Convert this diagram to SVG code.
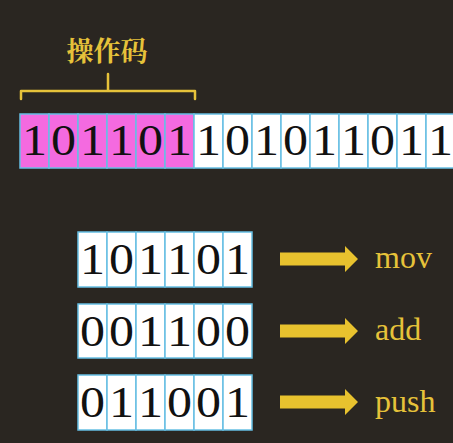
<svg xmlns="http://www.w3.org/2000/svg" width="453" height="443" viewBox="0 0 453 443">
<defs>
<style>
.bg{fill:#2a2621}
.cell{fill:#ffffff;stroke:#66bfe3;stroke-width:1.5}
.op{fill:#f46ae0}
.bit{font-family:"Liberation Serif","Times New Roman",serif;font-size:44px;fill:#111;text-anchor:middle}
.lbl{font-family:"Liberation Serif","Times New Roman",serif;font-size:32px;fill:#e6c23a}
.cn{font-family:"Noto Serif CJK SC","Noto Sans CJK SC",serif;font-size:27px;font-weight:bold;fill:#e6c23a;text-anchor:middle}
.brace{fill:none;stroke:#e6c23a;stroke-width:2.5;stroke-linejoin:round;stroke-linecap:round}
.arrow{fill:#e8c22e}
</style>
<path id="arr" d="M0,-6.5 H65 V-13 L78,0 L65,13 V6.5 H0 Z"/>
</defs>
<rect class="bg" x="0" y="0" width="453" height="443"/>

<g id="opcode-label">
<text class="cn" x="107" y="61">操作码</text>
<path class="brace" d="M21,99 V91 H195 V99 M108,91 V74"/>
</g>

<g id="instruction">
<g id="opcode-bits">
<rect class="cell op" x="20" y="114" width="29" height="54"/>
<rect class="cell op" x="49" y="114" width="29" height="54"/>
<rect class="cell op" x="78" y="114" width="29" height="54"/>
<rect class="cell op" x="107" y="114" width="29" height="54"/>
<rect class="cell op" x="136" y="114" width="29" height="54"/>
<rect class="cell op" x="165" y="114" width="29" height="54"/>
<text class="bit" x="34.5" y="155" textLength="25" lengthAdjust="spacingAndGlyphs">1</text>
<text class="bit" x="63.5" y="155" textLength="25" lengthAdjust="spacingAndGlyphs">0</text>
<text class="bit" x="92.5" y="155" textLength="25" lengthAdjust="spacingAndGlyphs">1</text>
<text class="bit" x="121.5" y="155" textLength="25" lengthAdjust="spacingAndGlyphs">1</text>
<text class="bit" x="150.5" y="155" textLength="25" lengthAdjust="spacingAndGlyphs">0</text>
<text class="bit" x="179.5" y="155" textLength="25" lengthAdjust="spacingAndGlyphs">1</text>
</g>
<g id="operand-bits">
<rect class="cell" x="194" y="114" width="29" height="54"/>
<rect class="cell" x="223" y="114" width="29" height="54"/>
<rect class="cell" x="252" y="114" width="29" height="54"/>
<rect class="cell" x="281" y="114" width="29" height="54"/>
<rect class="cell" x="310" y="114" width="29" height="54"/>
<rect class="cell" x="339" y="114" width="29" height="54"/>
<rect class="cell" x="368" y="114" width="29" height="54"/>
<rect class="cell" x="397" y="114" width="29" height="54"/>
<rect class="cell" x="426" y="114" width="29" height="54"/>
<text class="bit" x="208.5" y="155" textLength="25" lengthAdjust="spacingAndGlyphs">1</text>
<text class="bit" x="237.5" y="155" textLength="25" lengthAdjust="spacingAndGlyphs">0</text>
<text class="bit" x="266.5" y="155" textLength="25" lengthAdjust="spacingAndGlyphs">1</text>
<text class="bit" x="295.5" y="155" textLength="25" lengthAdjust="spacingAndGlyphs">0</text>
<text class="bit" x="324.5" y="155" textLength="25" lengthAdjust="spacingAndGlyphs">1</text>
<text class="bit" x="353.5" y="155" textLength="25" lengthAdjust="spacingAndGlyphs">1</text>
<text class="bit" x="382.5" y="155" textLength="25" lengthAdjust="spacingAndGlyphs">0</text>
<text class="bit" x="411.5" y="155" textLength="25" lengthAdjust="spacingAndGlyphs">1</text>
<text class="bit" x="440.5" y="155" textLength="25" lengthAdjust="spacingAndGlyphs">1</text>
</g>
</g>

<g id="code-mov">
<rect class="cell" x="78" y="232" width="29" height="55"/>
<rect class="cell" x="107" y="232" width="29" height="55"/>
<rect class="cell" x="136" y="232" width="29" height="55"/>
<rect class="cell" x="165" y="232" width="29" height="55"/>
<rect class="cell" x="194" y="232" width="29" height="55"/>
<rect class="cell" x="223" y="232" width="29" height="55"/>
<text class="bit" x="92.5" y="274" textLength="25" lengthAdjust="spacingAndGlyphs">1</text>
<text class="bit" x="121.5" y="274" textLength="25" lengthAdjust="spacingAndGlyphs">0</text>
<text class="bit" x="150.5" y="274" textLength="25" lengthAdjust="spacingAndGlyphs">1</text>
<text class="bit" x="179.5" y="274" textLength="25" lengthAdjust="spacingAndGlyphs">1</text>
<text class="bit" x="208.5" y="274" textLength="25" lengthAdjust="spacingAndGlyphs">0</text>
<text class="bit" x="237.5" y="274" textLength="25" lengthAdjust="spacingAndGlyphs">1</text>
</g>

<g id="code-add">
<rect class="cell" x="78" y="304" width="29" height="54"/>
<rect class="cell" x="107" y="304" width="29" height="54"/>
<rect class="cell" x="136" y="304" width="29" height="54"/>
<rect class="cell" x="165" y="304" width="29" height="54"/>
<rect class="cell" x="194" y="304" width="29" height="54"/>
<rect class="cell" x="223" y="304" width="29" height="54"/>
<text class="bit" x="92.5" y="345.5" textLength="25" lengthAdjust="spacingAndGlyphs">0</text>
<text class="bit" x="121.5" y="345.5" textLength="25" lengthAdjust="spacingAndGlyphs">0</text>
<text class="bit" x="150.5" y="345.5" textLength="25" lengthAdjust="spacingAndGlyphs">1</text>
<text class="bit" x="179.5" y="345.5" textLength="25" lengthAdjust="spacingAndGlyphs">1</text>
<text class="bit" x="208.5" y="345.5" textLength="25" lengthAdjust="spacingAndGlyphs">0</text>
<text class="bit" x="237.5" y="345.5" textLength="25" lengthAdjust="spacingAndGlyphs">0</text>
</g>

<g id="code-push">
<rect class="cell" x="78" y="375" width="29" height="55"/>
<rect class="cell" x="107" y="375" width="29" height="55"/>
<rect class="cell" x="136" y="375" width="29" height="55"/>
<rect class="cell" x="165" y="375" width="29" height="55"/>
<rect class="cell" x="194" y="375" width="29" height="55"/>
<rect class="cell" x="223" y="375" width="29" height="55"/>
<text class="bit" x="92.5" y="417" textLength="25" lengthAdjust="spacingAndGlyphs">0</text>
<text class="bit" x="121.5" y="417" textLength="25" lengthAdjust="spacingAndGlyphs">1</text>
<text class="bit" x="150.5" y="417" textLength="25" lengthAdjust="spacingAndGlyphs">1</text>
<text class="bit" x="179.5" y="417" textLength="25" lengthAdjust="spacingAndGlyphs">0</text>
<text class="bit" x="208.5" y="417" textLength="25" lengthAdjust="spacingAndGlyphs">0</text>
<text class="bit" x="237.5" y="417" textLength="25" lengthAdjust="spacingAndGlyphs">1</text>
</g>

<g id="name-mov"><text class="lbl" x="375" y="268">mov</text></g>
<g id="name-add"><text class="lbl" x="375" y="340">add</text></g>
<g id="name-push"><text class="lbl" x="375" y="412">push</text></g>

<g id="connectors">
<use href="#arr" class="arrow" x="280" y="259"/>
<use href="#arr" class="arrow" x="280" y="331"/>
<use href="#arr" class="arrow" x="280" y="402"/>
</g>
</svg>
